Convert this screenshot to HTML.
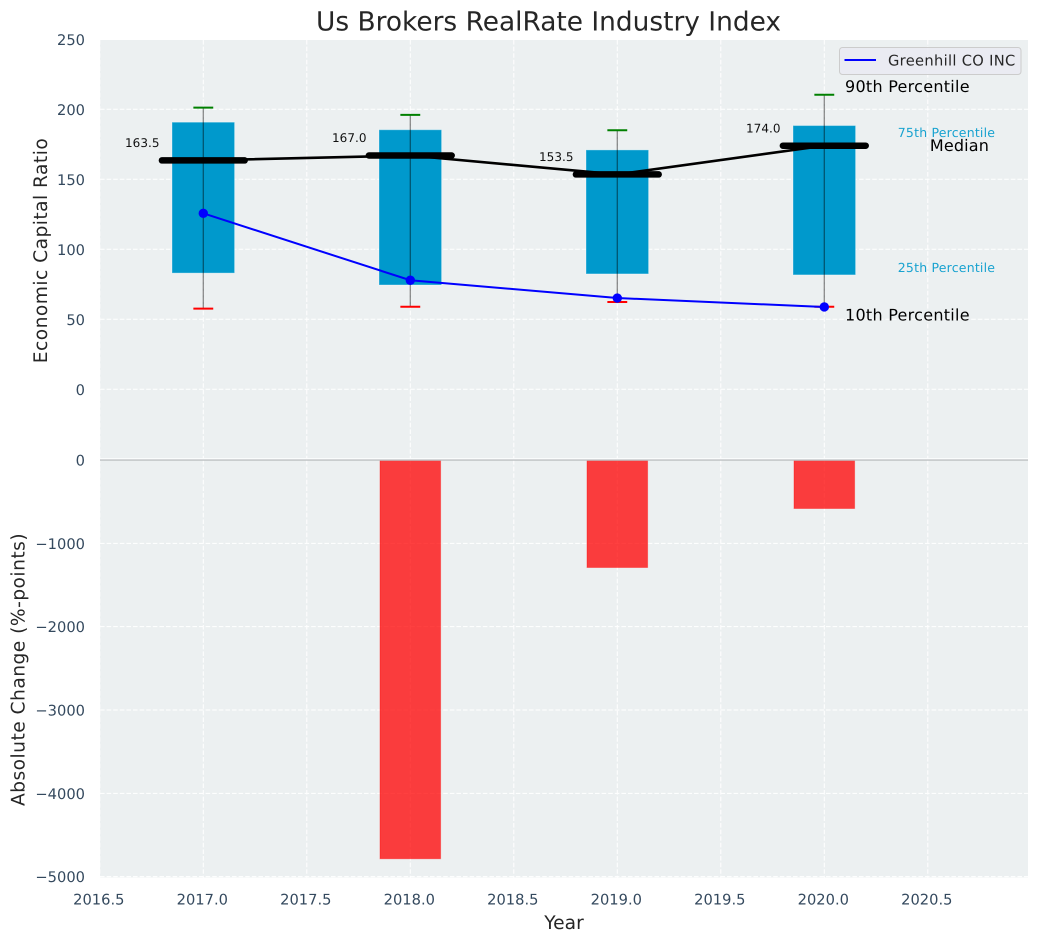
<!DOCTYPE html>
<html>
<head>
<meta charset="utf-8">
<title>Us Brokers RealRate Industry Index</title>
<style>
html,body{margin:0;padding:0;background:#fff;width:1039px;height:942px;overflow:hidden}
svg{display:block;font-family:"DejaVu Sans","Liberation Sans",sans-serif;text-rendering:geometricPrecision}
</style>
</head>
<body>
<svg id="chart" xmlns="http://www.w3.org/2000/svg" width="1039" height="942" viewBox="0 0 1039 942">
<rect x="100" y="40" width="928" height="420" fill="#ecf0f1"/>
<rect x="100" y="460" width="928" height="417.5" fill="#ecf0f1"/>
<g id="grid"></g>
<g id="bars"></g>
<g id="boxes"></g>
<g id="lines"></g>
<g id="labels"></g>
<g id="ticks"></g>
<line x1="100" x2="1028" y1="460" y2="460" stroke="#bdc1c3" stroke-width="1.4"/>
<line x1="100" x2="1028" y1="458.7" y2="458.7" stroke="#ffffff" stroke-width="1"/>
<text x="548.5" y="30.5" text-anchor="middle" font-size="26.4" fill="#262626">Us Brokers RealRate Industry Index</text>
<text transform="translate(47,250.5) rotate(-90)" text-anchor="middle" font-size="18.67" letter-spacing="0.45" fill="#262626">Economic Capital Ratio</text>
<text transform="translate(24.5,669.5) rotate(-90)" text-anchor="middle" font-size="18.67" letter-spacing="0.46" fill="#262626">Absolute Change (%-points)</text>
<text x="564" y="929" text-anchor="middle" font-size="18.67" fill="#262626">Year</text>
<g>
<rect x="839.5" y="47.5" width="181.5" height="27" rx="3" fill="#eaeaf2" fill-opacity="0.85" stroke="#cccccc" stroke-width="1"/>
<line x1="844.5" x2="876" y1="60" y2="60" stroke="#0000ff" stroke-width="2"/>
<text x="888" y="65.5" font-size="14.67" letter-spacing="0.32" fill="#262626">Greenhill CO INC</text>
</g>
</svg>
<script>
var years = [2017, 2018, 2019, 2020];
var p90 = [201.2, 196, 185, 210.4];
var p75 = [190.8, 185.4, 171, 188.4];
var medians = [163.5, 167, 153.5, 174];
var p25 = [83, 74.5, 82.4, 81.7];
var p10 = [57.6, 59, 62.4, 59];
var company = [125.7, 77.9, 65.2, 58.8];
var changeYears = [2018, 2019, 2020];
var changes = [-4785, -1290, -582];
var medianLabels = ["163.5", "167.0", "153.5", "174.0"];
var xTicks = [2016.5, 2017, 2017.5, 2018, 2018.5, 2019, 2019.5, 2020, 2020.5];
var xTickLabels = ["2016.5", "2017.0", "2017.5", "2018.0", "2018.5", "2019.0", "2019.5", "2020.0", "2020.5"];
var topTicks = [0, 50, 100, 150, 200, 250];
var bottomTicks = [0, -1000, -2000, -3000, -4000, -5000];

function xPos(v) { return 203.3 + (v - 2017) * 207; }
function yTop(v) { return 389.3 - v * 1.4; }
function yBottom(v) { return 460 - v * 0.08333; }

var NS = "http://www.w3.org/2000/svg";
function mk(parentId, tag, attrs, txt) {
  var el = document.createElementNS(NS, tag);
  for (var k in attrs) { el.setAttribute(k, attrs[k]); }
  if (txt !== undefined) { el.textContent = txt; }
  document.getElementById(parentId).appendChild(el);
  return el;
}
var el, i;
var gridStyle = { stroke: "#ffffff", "stroke-width": 1, "stroke-dasharray": "4.6,2" };
function gridLine(x1, y1, x2, y2) {
  return mk("grid", "line", { x1: x1, y1: y1, x2: x2, y2: y2, stroke: gridStyle.stroke, "stroke-width": gridStyle["stroke-width"], "stroke-dasharray": gridStyle["stroke-dasharray"] });
}

xTicks.forEach(function (t, n) {
  el = gridLine(xPos(t), 40, xPos(t), 458);
  
  
  el = gridLine(xPos(t), 460, xPos(t), 877.5);
  
  
  el = mk("ticks", "text", { x: xPos(t) - 1, y: 904.5, "text-anchor": "middle", "font-size": 14.67, fill: "#34495e" }, xTickLabels[n]);
  
  
});
topTicks.forEach(function (t) {
  el = gridLine(100, yTop(t), 1028, yTop(t));
  
  
  el = mk("ticks", "text", { x: 85, y: yTop(t) + 5.8, "text-anchor": "end", "font-size": 14.67, fill: "#34495e" }, String(t));
  
  
});
bottomTicks.forEach(function (t) {
  if (t !== 0) {
    el = gridLine(100, yBottom(t), 1028, yBottom(t));
    
    
  }
  el = mk("ticks", "text", { x: 85, y: yBottom(t) + 5.5, "text-anchor": "end", "font-size": 14.67, fill: "#34495e" }, String(t).replace("-", "\u2212"));
  
  
});

changeYears.forEach(function (yr, n) {
  var y0 = yBottom(0), y1 = yBottom(changes[n]);
  el = mk("bars", "rect", { x: xPos(yr) - 30.3, y: y0, width: 60.6, height: y1 - y0, fill: "#ff0000", "fill-opacity": 0.75, stroke: "#ff0000", "stroke-opacity": 0.35, "stroke-width": 1 });
  
  
});

years.forEach(function (yr, n) {
  var cx = xPos(yr);
  el = mk("boxes", "rect", { x: cx - 31.3, y: yTop(p75[n]), width: 62.6, height: yTop(p25[n]) - yTop(p75[n]), fill: "#0099cc", stroke: "#ffffff", "stroke-opacity": 0.35, "stroke-width": 1 });
  
  
  el = mk("boxes", "line", { x1: cx, x2: cx, y1: yTop(p90[n]), y2: yTop(p10[n]), stroke: "#000000", "stroke-opacity": 0.45, "stroke-width": 1.3 });
  
  
  el = mk("boxes", "line", { x1: xPos(yr - 0.048), x2: xPos(yr + 0.048), y1: yTop(p90[n]), y2: yTop(p90[n]), stroke: "#008000", "stroke-width": 2 });
  
  
  el = mk("boxes", "line", { x1: xPos(yr - 0.048), x2: xPos(yr + 0.048), y1: yTop(p10[n]), y2: yTop(p10[n]), stroke: "#ff0000", "stroke-width": 2 });
  
  
});

var medianPts = years.map(function (yr, n) { return xPos(yr) + "," + yTop(medians[n]); }).join(" ");
el = mk("lines", "polyline", { points: medianPts, fill: "none", stroke: "#000000", "stroke-width": 2.6, "stroke-linejoin": "round" });


years.forEach(function (yr, n) {
  el = mk("lines", "line", { x1: xPos(yr - 0.2), x2: xPos(yr + 0.2), y1: yTop(medians[n]), y2: yTop(medians[n]), stroke: "#000000", "stroke-width": 6.5, "stroke-linecap": "round" });
  
  
  el = mk("labels", "text", { x: xPos(yr) - 78.3, y: yTop(medians[n]) - 13.4, "font-size": 12, "letter-spacing": 0.05, fill: "#111111" }, medianLabels[n]);
  
  
});

var companyPts = years.map(function (yr, n) { return xPos(yr) + "," + yTop(company[n]); }).join(" ");
el = mk("lines", "polyline", { points: companyPts, fill: "none", stroke: "#0000ff", "stroke-width": 2 });


years.forEach(function (yr, n) {
  el = mk("lines", "circle", { cx: xPos(yr), cy: yTop(company[n]), r: 4.7, fill: "#0000ff" });
  
  
});

var last = years.length - 1;
var lastX = years[last];
el = mk("labels", "text", { x: xPos(lastX + 0.1), y: yTop(p90[last]) - 2.5, "font-size": 16, "letter-spacing": 0.27, fill: "#000000" }, "90th Percentile");


el = mk("labels", "text", { x: xPos(lastX + 0.1), y: yTop(p10[last] - 10), "font-size": 16, "letter-spacing": 0.27, fill: "#000000" }, "10th Percentile");


el = mk("labels", "text", { x: xPos(lastX + 0.355), y: yTop(p75[last]) + 11.5, "font-size": 12.5, "letter-spacing": 0.2, fill: "#0099cc", "fill-opacity": 0.9 }, "75th Percentile");


el = mk("labels", "text", { x: xPos(lastX + 0.355), y: yTop(p25[last]) - 2.8, "font-size": 12.5, "letter-spacing": 0.2, fill: "#0099cc", "fill-opacity": 0.9 }, "25th Percentile");


el = mk("labels", "text", { x: xPos(lastX + 0.51), y: yTop(medians[last]) + 5.3, "font-size": 16, "letter-spacing": 0.17, fill: "#000000" }, "Median");


</script>
</body>
</html>
